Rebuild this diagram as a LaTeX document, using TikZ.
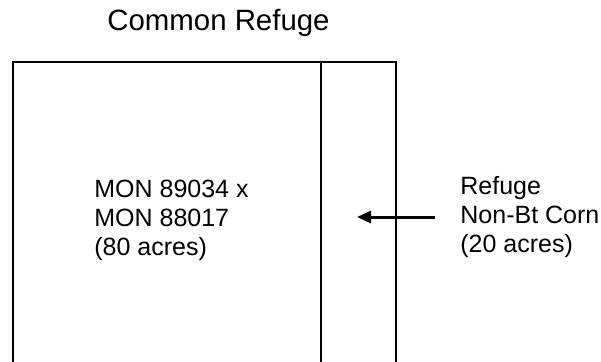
\documentclass[tikz,border=0pt]{standalone}
\usepackage{fontspec}
\setmainfont{Liberation Sans}
\usetikzlibrary{arrows.meta}
\begin{document}
\begin{tikzpicture}[x=0.5pt,y=-0.5pt,
  label text/.style={anchor=north west, inner sep=0pt, align=left, font=\fontsize{12.5}{14.5}\selectfont},
  field line/.style={line width=1.2pt},
  arrow/.style={-{Triangle[length=7pt,width=6pt]}, line width=1.5pt}]

  \newcommand\FieldTop{62}
  \newcommand\FieldBot{362}

  \useasboundingbox (0,0) rectangle (601,362);

  \node (title) [anchor=base, inner sep=0pt, font=\fontsize{14.7}{17}\selectfont] at (218.5,31) {Common Refuge};

  %% field outline, open at the bottom
  \draw[field line] (13,\FieldBot) -- (13,\FieldTop) -- (396,\FieldTop) -- (396,\FieldBot);
  \draw[field line] (321,\FieldTop) -- (321,\FieldBot); %% refuge strip

  \node (bt) [label text] at (94,180) {MON 89034 x\\MON 88017\\(80 acres)};
  \node (refuge) [label text] at (460,176) {Refuge\\Non-Bt Corn\\(20 acres)};

  \coordinate (strip) at (357,214);
  \draw[arrow] ([xshift=-12.5pt]refuge.west) -- (strip |- refuge.west); %% refuge -> strip
\end{tikzpicture}
\end{document}
